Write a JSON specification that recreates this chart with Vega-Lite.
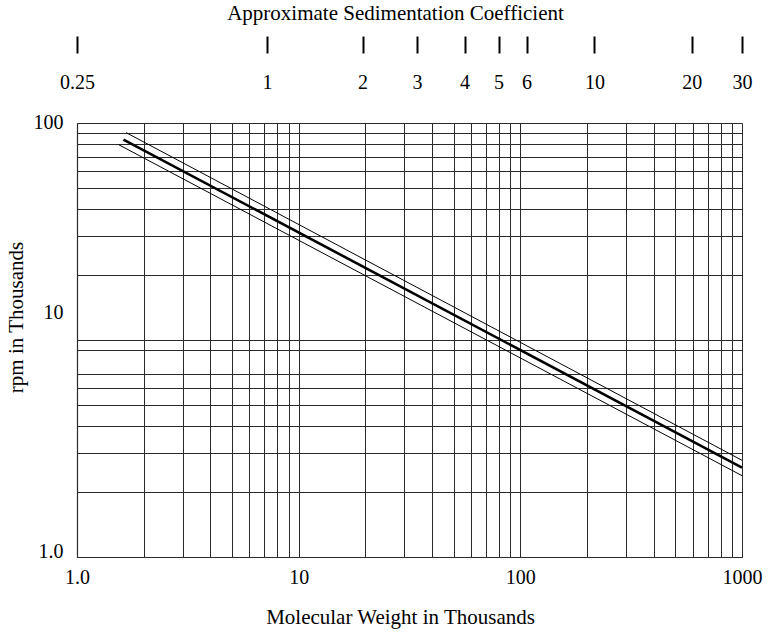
{
  "$schema": "https://vega.github.io/schema/vega-lite/v6.json",
  "width": 665,
  "height": 434,
  "autosize": {"type": "none"},
  "padding": {"left": 77, "top": 123, "right": 26, "bottom": 79},
  "background": "white",
  "config": {
    "view": {"stroke": null},
    "font": "Liberation Serif",
    "axis": {
      "labelFont": "Liberation Serif",
      "titleFont": "Liberation Serif",
      "labelColor": "black",
      "titleColor": "black",
      "titleFontWeight": "normal",
      "labelFontSize": 20,
      "titleFontSize": 21
    }
  },
  "data": {
    "values": [
      {"mw": 1.665, "rpm": 90.3, "series": "upper"},
      {"mw": 1000, "rpm": 2.79, "series": "upper"},
      {"mw": 1.62, "rpm": 83.9, "series": "center"},
      {"mw": 1000, "rpm": 2.58, "series": "center"},
      {"mw": 1.54, "rpm": 79.5, "series": "lower"},
      {"mw": 1000, "rpm": 2.37, "series": "lower"}
    ]
  },
  "resolve": {"axis": {"x": "independent"}},
  "layer": [
    {
      "mark": {"type": "line", "color": "black"},
      "encoding": {
        "x": {
          "field": "mw",
          "type": "quantitative",
          "scale": {"type": "log", "domain": [1, 1000], "nice": false},
          "axis": {
            "orient": "bottom",
            "title": "Molecular Weight in Thousands",
            "titleX": 323,
            "values": [1, 2, 3, 4, 5, 6, 7, 8, 9, 10, 20, 30, 40, 50, 60, 70, 80, 90, 100, 200, 300, 400, 500, 600, 700, 800, 900, 1000],
            "labelExpr": "datum.value == 1 ? '1.0' : (datum.value == 10 || datum.value == 100 || datum.value == 1000) ? format(datum.value, 'd') : ''",
            "grid": true,
            "gridColor": "#2a2a2a",
            "gridWidth": 1,
            "gridOpacity": 1,
            "ticks": false,
            "domain": true,
            "domainColor": "#2a2a2a",
            "domainWidth": 1.2,
            "labelPadding": 10,
            "labelFlush": false,
            "labelOverlap": false,
            "titlePadding": 19
          }
        },
        "y": {
          "field": "rpm",
          "type": "quantitative",
          "scale": {"type": "log", "domain": [1, 100], "nice": false},
          "axis": {
            "title": "rpm in Thousands",
            "titleY": 194,
            "values": [1, 2, 3, 4, 5, 6, 7, 9, 10, 20, 30, 40, 50, 60, 70, 80, 90, 100],
            "labelExpr": "datum.value == 1 ? '1.0' : (datum.value == 10 || datum.value == 100) ? format(datum.value, 'd') : ''",
            "labelOffset": {"condition": [{"test": "datum.value == 10", "value": -28}, {"test": "datum.value == 1", "value": -6}], "value": -1},
            "grid": true,
            "gridColor": "#2a2a2a",
            "gridWidth": 1,
            "gridOpacity": 1,
            "ticks": false,
            "domain": true,
            "domainColor": "#2a2a2a",
            "domainWidth": 1.2,
            "labelPadding": 14,
            "labelFlush": false,
            "labelOverlap": false,
            "titlePadding": 7
          }
        },
        "detail": {"field": "series"},
        "strokeWidth": {
          "condition": {"test": "datum.series == 'center'", "value": 2.6},
          "value": 1
        }
      }
    },
    {
      "mark": {"type": "point", "opacity": 0},
      "encoding": {
        "x": {
          "field": "mw",
          "type": "quantitative",
          "axis": {
            "orient": "top",
            "title": "Approximate Sedimentation Coefficient",
            "titleX": 318,
            "values": [1, 7.19, 19.41, 34.2, 56.0, 79.8, 106.7, 216, 593, 1000],
            "labelExpr": "datum.value < 2 ? '0.25' : datum.value < 10 ? '1' : datum.value < 25 ? '2' : datum.value < 45 ? '3' : datum.value < 65 ? '4' : datum.value < 90 ? '5' : datum.value < 150 ? '6' : datum.value < 400 ? '10' : datum.value < 800 ? '20' : '30'",
            "grid": false,
            "domain": false,
            "ticks": true,
            "tickSize": 17,
            "tickWidth": 2,
            "tickColor": "black",
            "offset": 70,
            "labelPadding": -46,
            "labelBaseline": "middle",
            "labelFlush": false,
            "labelOverlap": false,
            "titlePadding": 12
          }
        }
      }
    }
  ]
}
